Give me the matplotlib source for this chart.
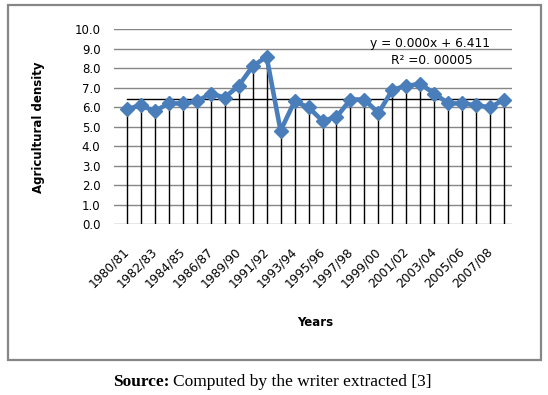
import numpy as np
import matplotlib
matplotlib.use("Agg")
import matplotlib.pyplot as plt
import matplotlib.transforms as mtransforms
from matplotlib.patches import Rectangle

years = ["1980/81", "1981/82", "1982/83", "1983/84", "1984/85", "1985/86", "1986/87",
         "1987/88", "1989/90", "1990/91", "1991/92", "1992/93", "1993/94", "1994/95",
         "1995/96", "1996/97", "1997/98", "1998/99", "1999/00", "2000/01", "2001/02",
         "2002/03", "2003/04", "2004/05", "2005/06", "2006/07", "2007/08", "2008/09"]
density = [5.9, 6.1, 5.8, 6.2, 6.2, 6.3, 6.7, 6.5, 7.1, 8.1, 8.6, 4.8, 6.3, 6.0,
           5.3, 5.5, 6.4, 6.4, 5.7, 6.9, 7.1, 7.2, 6.7, 6.2, 6.2, 6.1, 6.0, 6.4]
trend_slope = 0.000
trend_intercept = 6.411
y_ticks = np.arange(0, 10.5, 1.0)

W, H = 548, 395
fig = plt.figure(figsize=(W / 100, H / 100), dpi=100)
fig.patch.set_facecolor("white")

def fx(px):
    return px / W

def fy(py):
    return 1 - py / H

# outer frame
fig.patches.append(Rectangle((fx(8), fy(360)), fx(541 - 8), (360 - 4.5) / H,
                             transform=fig.transFigure, fill=False,
                             edgecolor="#868686", linewidth=1.6))

ax = fig.add_axes([fx(114.3), fy(224.3), fx(511.7 - 114.3), (224.3 - 29.3) / H])
x = np.arange(len(years))

ax.set_ylim(0, 10)
ax.set_xlim(-0.89, len(years) - 1 + 0.53)
ax.set_yticks(y_ticks)
ax.set_yticklabels([f"{v:.1f}" for v in y_ticks])
for v in y_ticks:
    ax.axhline(v, color="#868686", linewidth=1.0, zorder=1)

# drop lines
ax.vlines(x, 0, density, colors="black", linewidth=1.0, zorder=2)

# linear trend line
trend = trend_slope * x + trend_intercept
ax.plot([x[0], x[-1]], [trend[0], trend[-1]], color="black", linewidth=1.0, zorder=3)

ax.plot(x, density, color="#4A7EBB", linewidth=3.3, marker="D", markersize=7,
        markerfacecolor="#4A7EBB", markeredgecolor="#4A7EBB", zorder=4)

for s in ax.spines.values():
    s.set_visible(False)

ax.tick_params(axis="y", length=0, pad=10, labelsize=8.5)
ax.tick_params(axis="x", length=0, pad=14, labelsize=8.8)
ax.set_xticks(x[::2])
ax.set_xticklabels(years[::2], rotation=45, ha="right", va="top")
offset = mtransforms.ScaledTranslation(5 / 100, -1 / 100, fig.dpi_scale_trans)
for lbl in ax.get_xticklabels():
    lbl.set_transform(lbl.get_transform() + offset)

fig.text(fx(430), fy(44), "y = 0.000x + 6.411", fontsize=8.8, ha="center", va="center")
fig.text(fx(432), fy(61), "R² =0. 00005", fontsize=8.8, ha="center", va="center")

fig.text(fx(39), fy(127), "Agricultural density", rotation=90, fontsize=8.5,
         fontweight="bold", ha="center", va="center")
fig.text(fx(315), fy(322), "Years", fontsize=8.5, fontweight="bold",
         ha="center", va="center")

src_bold = fig.text(fx(113), fy(382), "Source:", family="Liberation Serif",
                    fontweight="bold", fontsize=12.5, ha="left", va="center")
fig.canvas.draw()
bb = src_bold.get_window_extent()
fig.text(fx(bb.x1 + 4), fy(382), "Computed by the writer extracted [3]",
         family="Liberation Serif", fontsize=12.5, ha="left", va="center")

fig.savefig("out.png", dpi=100, facecolor="white")
